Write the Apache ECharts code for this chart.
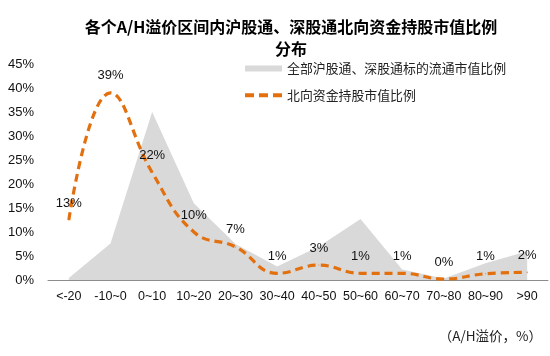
<!DOCTYPE html>
<html>
<head>
<meta charset="utf-8">
<script src="https://cdn.jsdelivr.net/npm/echarts@6/dist/echarts.min.js"></script>
<style>
html,body{margin:0;padding:0;background:#fff;}
#c{width:550px;height:356px;}
</style>
</head>
<body>
<div id="c"></div>
<script>
const categories = ['<-20','-10~0','0~10','10~20','20~30','30~40','40~50','50~60','60~70','70~80','80~90','>90'];
const marketCapShare = [0.4, 7.6, 35, 16, 7.5, 2.8, 7, 12.7, 2.2, 0.3, 3.5, 6];
const northboundShare = [12.5, 39, 22.4, 10, 6.9, 1.4, 3.1, 1.4, 1.4, 0.2, 1.3, 1.6];
const yTicks = { min: 0, max: 45, interval: 5 };
const titleText = '各个A/H溢价区间内沪股通、深股通北向资金持股市值比例\n分布';
const seriesNames = ['全部沪股通、深股通标的流通市值比例', '北向资金持股市值比例'];
const axisUnit = '（A/H溢价，%）';

const FONT = '"Liberation Sans", Arial, "Noto Sans CJK SC", sans-serif';
const CJK = '"Noto Sans CJK SC", sans-serif';
const ORANGE = '#e3700f';
const chart = echarts.init(document.getElementById('c'), null, {renderer: 'canvas'});
chart.setOption({
  animation: false,
  backgroundColor: '#ffffff',
  title: {
    text: titleText,
    left: 286, top: 11,
    textAlign: 'center',
    textStyle: { fontFamily: CJK, fontSize: 16, fontWeight: 'bold', color: '#000', lineHeight: 22 }
  },
  legend: {
    orient: 'vertical',
    left: 245, top: 62,
    padding: 0,
    itemWidth: 37, itemHeight: 6, itemGap: 14,
    textStyle: { fontFamily: CJK, fontSize: 12.9, color: '#222' },
    data: [
      { name: seriesNames[0], icon: 'rect', itemStyle: { color: '#d9d9d9' } },
      { name: seriesNames[1], icon: 'path://M0,1h9v4h-9z M14,1h9v4h-9z M28,1h9v4h-9z', itemStyle: { color: ORANGE, opacity: 1 } }
    ]
  },
  grid: { left: 48, right: 2, top: 64, bottom: 76 },
  xAxis: {
    type: 'category',
    data: categories,
    boundaryGap: true,
    axisLine: { lineStyle: { color: '#8c8c8c', width: 1 } },
    axisTick: { show: false },
    axisLabel: { interval: 0, margin: 10, fontFamily: FONT, fontSize: 12.5, color: '#111' }
  },
  yAxis: {
    type: 'value',
    min: yTicks.min, max: yTicks.max, interval: yTicks.interval,
    axisLine: { show: false },
    axisTick: { show: false },
    splitLine: { show: false },
    axisLabel: { formatter: '{value}%', margin: 14, fontFamily: FONT, fontSize: 13, color: '#111' }
  },
  series: [
    {
      name: seriesNames[0],
      type: 'line',
      data: marketCapShare,
      symbol: 'none',
      smooth: false,
      itemStyle: { color: '#d9d9d9' },
      lineStyle: { width: 0, color: '#d9d9d9' },
      areaStyle: { color: '#d9d9d9', opacity: 1 },
      z: 1
    },
    {
      name: seriesNames[1],
      type: 'line',
      data: northboundShare,
      symbol: 'circle',
      symbolSize: 1,
      showSymbol: true,
      smooth: 0.45,
      itemStyle: { color: ORANGE },
      lineStyle: { width: 3.2, color: ORANGE, type: [8, 5] },
      label: {
        show: true, position: 'top', distance: 10,
        formatter: p => Math.round(p.value) + '%',
        fontFamily: FONT, fontSize: 13, color: '#111'
      },
      labelLayout: { hideOverlap: false },
      z: 3
    }
  ],
  graphic: [
    {
      type: 'text', right: 8, top: 329,
      style: { text: axisUnit, fontFamily: CJK, fontSize: 13.5, fill: '#222' }
    }
  ]
});
</script>
</body>
</html>
